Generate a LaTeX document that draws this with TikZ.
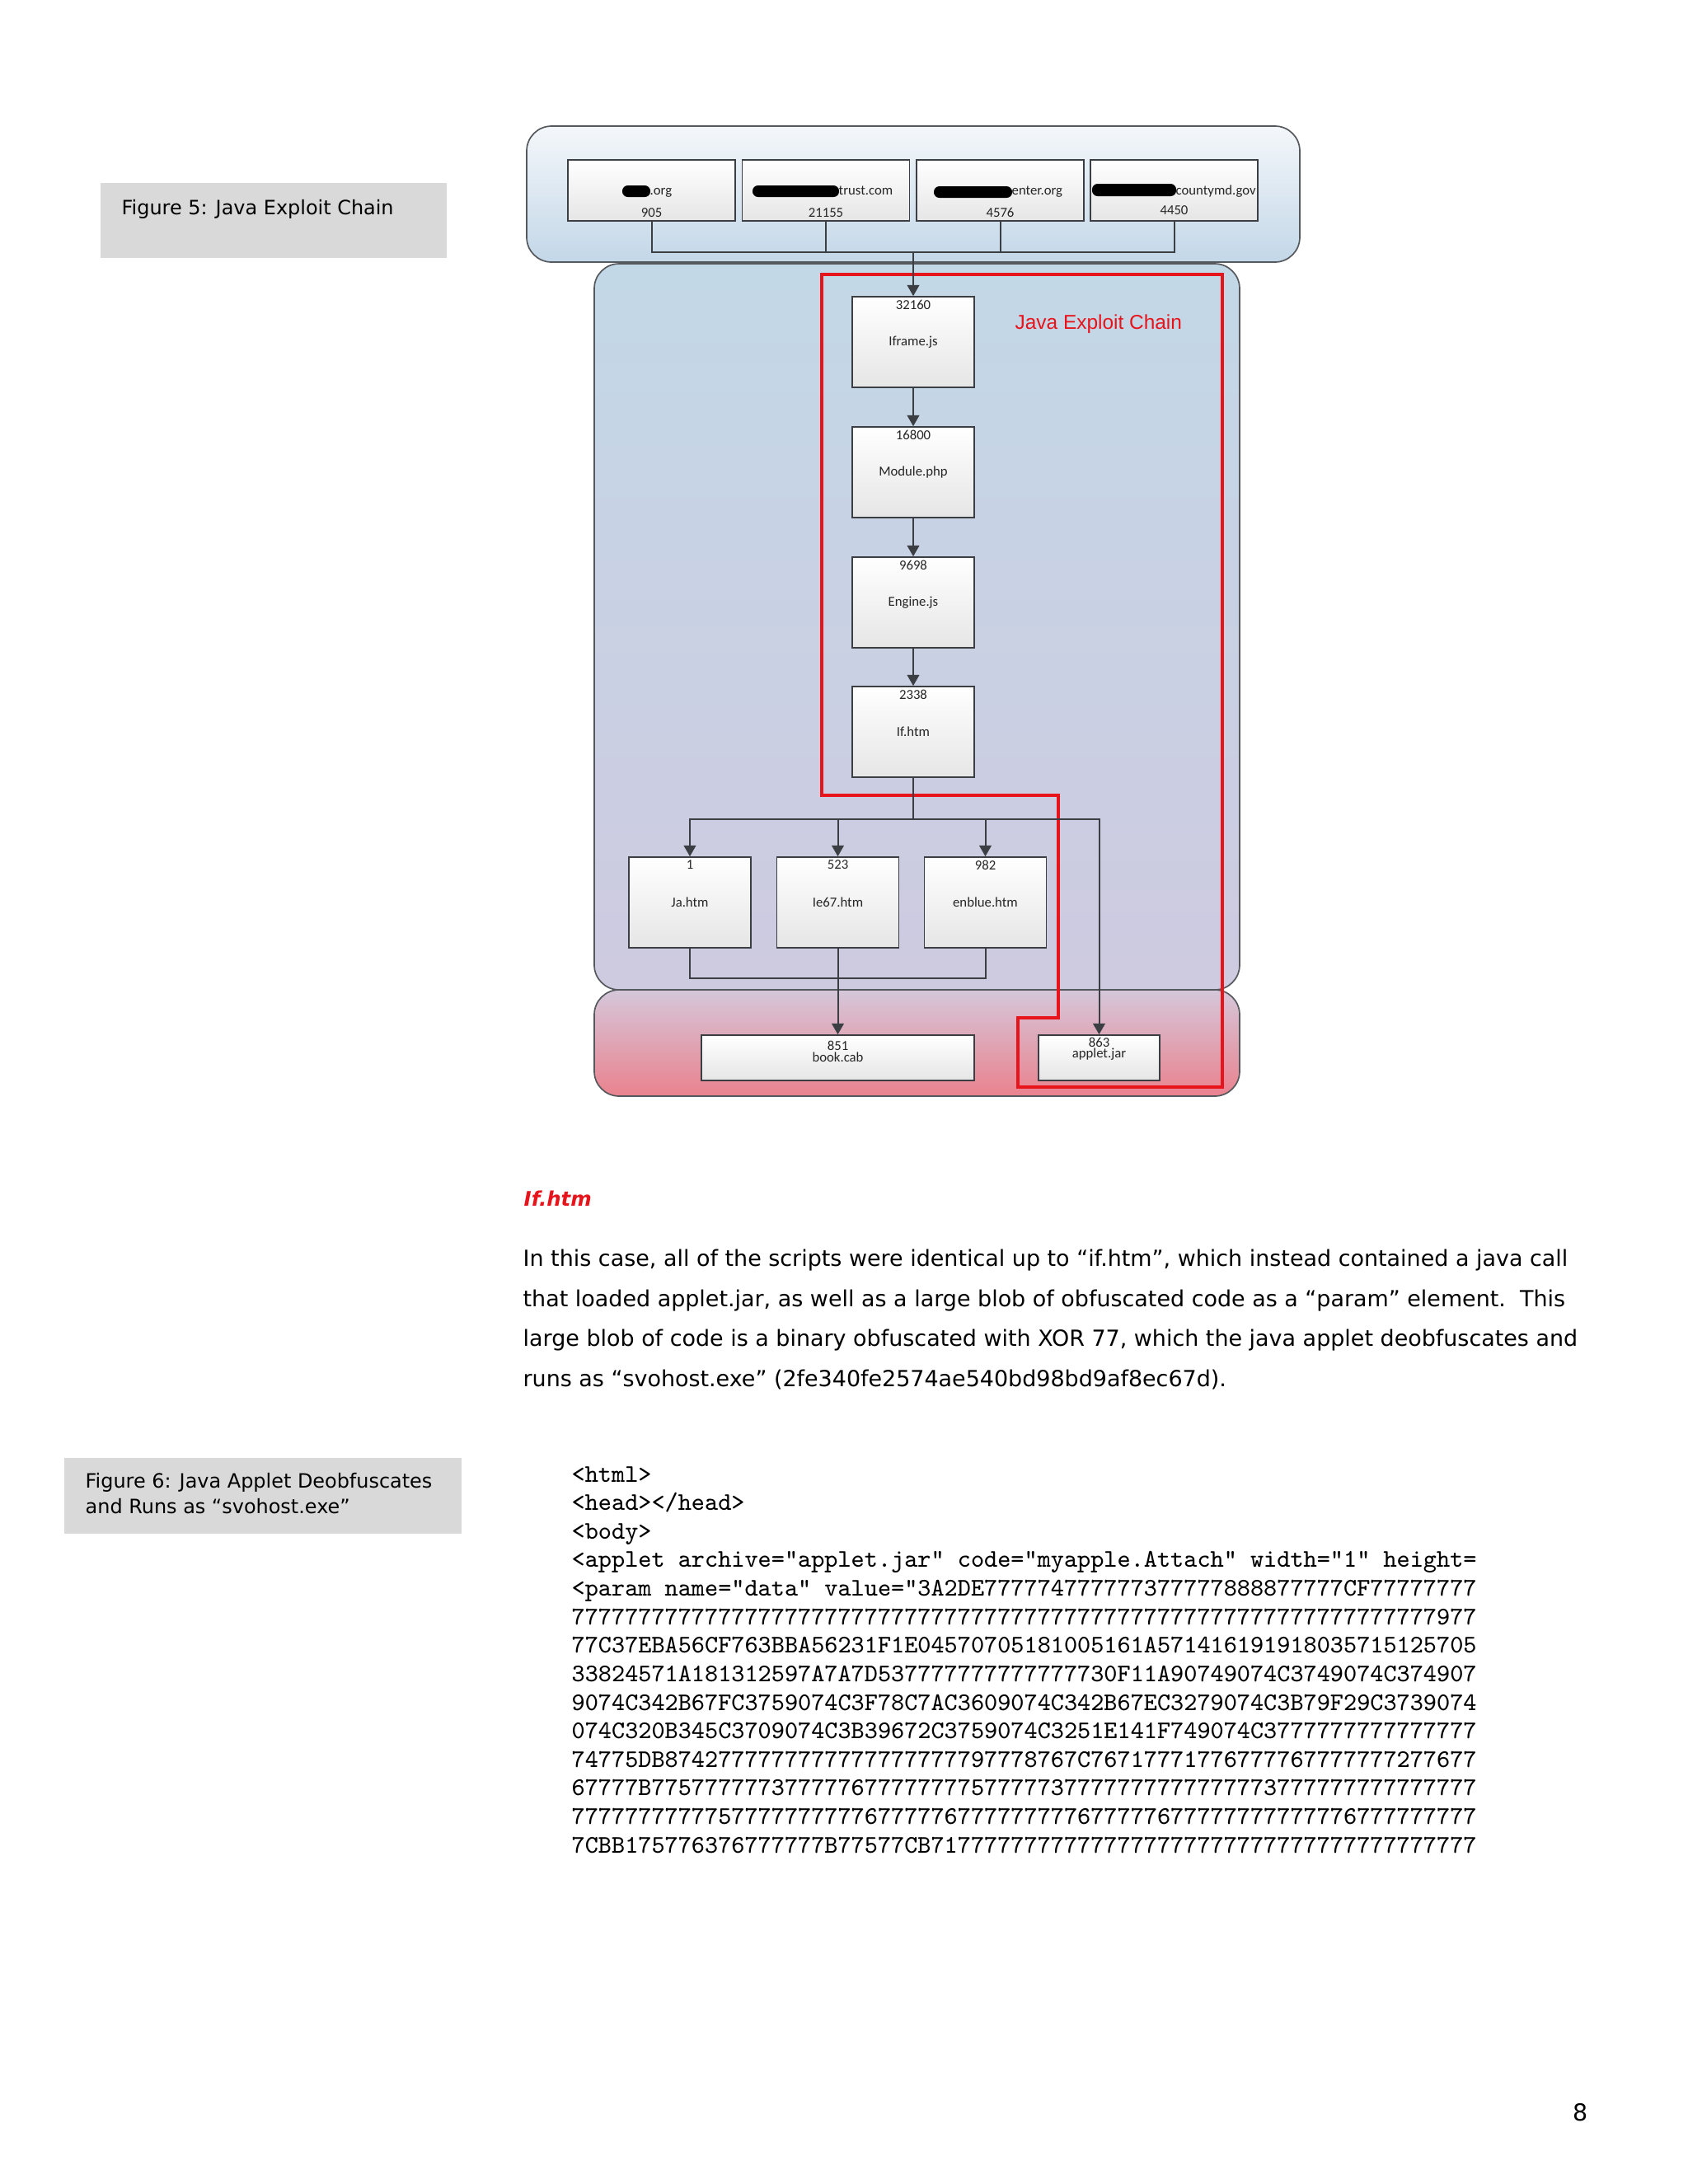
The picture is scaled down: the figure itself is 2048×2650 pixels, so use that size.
\documentclass[tikz,border=0pt]{standalone}
\usepackage{fontspec}
\setmainfont{DejaVu Sans}
\newfontfamily\calfont{Carlito}
\newfontfamily\arifont{Liberation Sans}
\usetikzlibrary{arrows.meta}
\ExplSyntaxOn
\NewDocumentCommand\reptx{mm}{\prg_replicate:nn{#1}{#2}}
\ExplSyntaxOff
\definecolor{boxline}{HTML}{3B3E42}
\definecolor{laneline}{HTML}{55585C}
\definecolor{capgray}{HTML}{D9D9D9}
\definecolor{chainred}{HTML}{E8141C}
\definecolor{lanea1}{HTML}{F4F7FA}
\definecolor{lanea2}{HTML}{C3D7E8}
\definecolor{laneb1}{HTML}{C3D8E7}
\definecolor{laneb2}{HTML}{CECAE0}
\definecolor{lanec1}{HTML}{D5C7DA}
\definecolor{lanec2}{HTML}{EA828E}
\def\pxu{0.29883pt}
\tikzset{
  lane/.style={draw=laneline, line width=0.5pt, rounded corners=9pt, inner sep=0pt},
  lblfont/.style={font=\calfont\fontsize{5}{6}\selectfont, text=black!85},
  flowbox/.style={draw=boxline, line width=0.5pt, top color=white, bottom color=black!10,
    minimum width=148*\pxu, minimum height=110*\pxu, inner sep=0pt, lblfont},
  dombox/.style={flowbox, minimum width=203*\pxu, minimum height=74*\pxu},
  widebox/.style={flowbox, minimum height=55*\pxu},
  lbl/.style={lblfont, inner sep=0pt},
  numlab/.style={lbl, anchor=north, yshift=-4*\pxu},
  botlab/.style={lbl, anchor=south, yshift=4.5*\pxu},
  conn/.style={draw=boxline, line width=0.6pt},
  arr/.style={conn, -{Triangle[length=4pt,width=4.4pt]}},
  redline/.style={draw=chainred, line width=1.2pt},
  capbox/.style={fill=capgray, draw=none},
  captxt/.style={font=\fontsize{7.15}{8}\selectfont, anchor=base west, inner sep=0pt},
  bodytxt/.style={font=\fontsize{8.05}{9}\selectfont, anchor=base west, inner sep=0pt},
  codeline/.style={font=\ttfamily\fontsize{9.19}{10}\selectfont, anchor=base west, inner sep=0pt},
  blob/.style={fill=black, rounded corners=2pt}
}
\begin{document}
\begin{tikzpicture}[x=0.29883pt,y=-0.29883pt]
\useasboundingbox (0,0) rectangle (2048,2650);
\fill[white] (0,0) rectangle (2048,2650);

% ---------- caption boxes ----------
\fill[capbox] (122,222) rectangle (542,313);
\node[captxt] (cap5) at (147,260) {Figure 5: Java Exploit Chain};
\fill[capbox] (78,1769) rectangle (560,1861);
\node[captxt] (cap6a) at (103,1805) {Figure 6: Java Applet Deobfuscates};
\node[captxt] (cap6b) at (103,1836) {and Runs as “svohost.exe”};

% ---------- lanes ----------
\node[lane, top color=laneb1, bottom color=laneb2, minimum width=783*\pxu, minimum height=881*\pxu] (lane2) at (1112.5,760.5) {};
\node[lane, top color=lanec1, bottom color=lanec2, minimum width=783*\pxu, minimum height=129*\pxu] (lane3) at (1112.5,1265.5) {};
\node[lane, top color=lanea1, bottom color=lanea2, minimum width=938*\pxu, minimum height=165*\pxu] (lane1) at (1108,235.5) {};

% ---------- red highlight ----------
\draw[redline] (997,333) -- (1483,333) -- (1483,1319) -- (1235,1319) -- (1235,1235) -- (1284,1235) -- (1284,965) -- (997,965) -- cycle;
\node[font=\arifont\fontsize{7.3}{8}\selectfont, text=chainred, anchor=west, inner sep=0pt] (chaintitle) at (1231,393) {Java Exploit Chain};

% ---------- domain boxes ----------
\node[dombox, label={[botlab]south:905}] (d1) at (790.5,231) {};
\node[dombox, label={[botlab]south:21155}] (d2) at (1002,231) {};
\node[dombox, label={[botlab]south:4576}] (d3) at (1213.5,231) {};
\node[dombox, label={[botlab,yshift=3*\pxu]south:4450}] (d4) at (1424.5,231) {};
\fill[blob] (755,225) rectangle (789,239);
\node[lbl, anchor=base west] (dt1) at (788,236) {.org};
\fill[blob] (913,225) rectangle (1018,239);
\node[lbl, anchor=base west] (dt2) at (1017,236) {trust.com};
\fill[blob] (1133,226) rectangle (1228,240);
\node[lbl, anchor=base west] (dt3) at (1227,236) {enter.org};
\fill[blob] (1325,223) rectangle (1427,238);
\node[lbl, anchor=base west] (dt4) at (1426,236) {countymd.gov};

% ---------- chain boxes ----------
\node[flowbox, label={[numlab]north:32160}] (ifr) at (1108,415) {Iframe.js};
\node[flowbox, label={[numlab]north:16800}] (mod) at (1108,573) {Module.php};
\node[flowbox, label={[numlab]north:9698}] (eng) at (1108,731) {Engine.js};
\node[flowbox, label={[numlab]north:2338}] (ifh) at (1108,888) {If.htm};

\node[flowbox, label={[numlab]north:1}] (ja) at (837,1095) {Ja.htm};
\node[flowbox, label={[numlab]north:523}] (le) at (1016.5,1095) {Ie67.htm};
\node[flowbox, label={[numlab]north:982}] (en) at (1195.5,1095) {enblue.htm};

\node[widebox, minimum width=331*\pxu, label={[numlab,yshift=-3*\pxu]north:851}, label={[numlab,yshift=-17*\pxu]north:book.cab}] (book) at (1016.5,1283.5) {};
\node[widebox, minimum width=147*\pxu, label={[numlab,yshift=1*\pxu]north:863}, label={[numlab,yshift=-12*\pxu]north:applet.jar}] (applet) at (1333.5,1283.5) {};

% ---------- connectors ----------
\coordinate (hub1) at (1108,306);
\coordinate (hub2) at (1108,994);
\coordinate (hub3) at (1016.5,1187);
\draw[conn] (d1.south) |- (hub1);
\draw[conn] (d2.south) |- (hub1);
\draw[conn] (d3.south) |- (hub1);
\draw[conn] (d4.south) |- (hub1);
\draw[arr] (hub1) -- (ifr.north);
\draw[arr] (ifr.south) -- (mod.north);
\draw[arr] (mod.south) -- (eng.north);
\draw[arr] (eng.south) -- (ifh.north);
\draw[conn] (ifh.south) -- (hub2);
\draw[arr] (hub2) -| (ja.north);
\draw[arr] (hub2) -| (le.north);
\draw[arr] (hub2) -| (en.north);
\draw[arr] (hub2) -| (applet.north);
\draw[conn] (ja.south) |- (hub3);
\draw[conn] (en.south) |- (hub3);
\draw[arr] (le.south) -- (book.north);

% ---------- text ----------
\node[captxt, font=\bfseries\itshape\fontsize{7.3}{8}\selectfont, text=chainred] (head) at (635,1463) {If.htm};
\node[bodytxt] (p1) at (634,1536) {In this case, all of the scripts were identical up to “if.htm”, which instead contained a java call};
\node[bodytxt] (p2) at (634,1585) {that loaded applet.jar, as well as a large blob of obfuscated code as a “param” element.\ \ This};
\node[bodytxt] (p3) at (634,1633) {large blob of code is a binary obfuscated with XOR 77, which the java applet deobfuscates and};
\node[bodytxt] (p4) at (634,1682) {runs as “svohost.exe” (2fe340fe2574ae540bd98bd9af8ec67d).};

% ---------- code ----------
\begin{scope}
\clip (680,1760) rectangle (1791,2262);
\node[codeline] (c1) at (693,1798) {<html>};
\node[codeline] (c2) at (693,1832.6) {<head></head>};
\node[codeline] (c3) at (693,1867.3) {<body>};
\node[codeline] (c4) at (693,1901.9) {<applet archive="applet.jar" code="myapple.Attach" width="1" height="1">};
\node[codeline] (c5) at (693,1936.5) {<param name="data" value="3A2DE777774777777377777888877777CF77777777777};
\node[codeline] (c6) at (693,1971.2) {\reptx{65}{7}9777777};
\node[codeline] (c7) at (693,2005.8) {77C37EBA56CF763BBA56231F1E04570705181005161A5714161919180357151257051};
\node[codeline] (c8) at (693,2040.4) {33824571A181312597A7A7D53\reptx{14}{7}30F11A90749074C3749074C3749074C};
\node[codeline] (c9) at (693,2075) {9074C342B67FC3759074C3F78C7AC3609074C342B67EC3279074C3B79F29C3739074C3};
\node[codeline] (c10) at (693,2109.7) {074C320B345C3709074C3B39672C3759074C3251E141F749074C3\reptx{17}{7}};
\node[codeline] (c11) at (693,2144.3) {74775DB8742\reptx{19}{7}97778767C7671777177677776777777727767777};
\node[codeline] (c12) at (693,2178.9) {67777B775777777377777677777777577777377777777777777737777777777777777777};
\node[codeline] (c13) at (693,2213.6) {77777777777577777777776777776777777777677777677777777777776777777777777};
\node[codeline] (c14) at (693,2248.2) {7CBB175776376777777B77577CB71\reptx{41}{7}};
\end{scope}

% ---------- page number ----------
\node[font=\fontsize{8.5}{9}\selectfont, inner sep=0pt] (pgnum) at (1918,2563) {8};
\end{tikzpicture}
\end{document}
